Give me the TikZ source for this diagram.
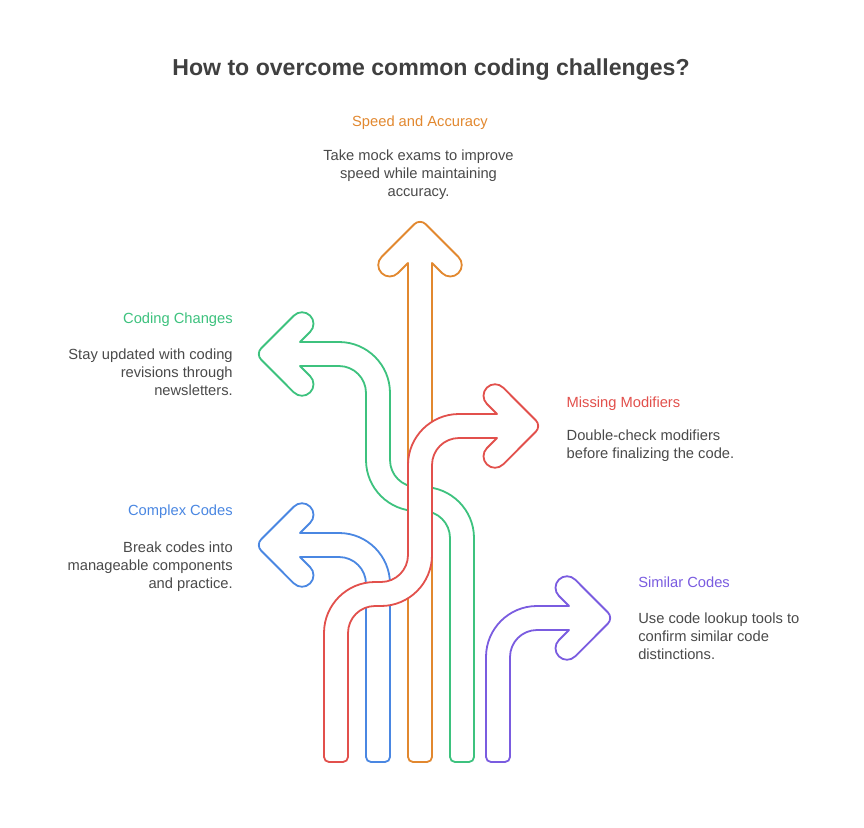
\documentclass[tikz,border=0pt]{standalone}
\usepackage{fontspec}
\setmainfont{Liberation Sans}
\definecolor{cOrange}{HTML}{E2882F}
\definecolor{cGreen}{HTML}{3DC27E}
\definecolor{cRed}{HTML}{E2504C}
\definecolor{cBlue}{HTML}{4A87E2}
\definecolor{cPurple}{HTML}{7A5CE0}
\definecolor{bodygray}{HTML}{4A4A4A}
\definecolor{titlegray}{HTML}{404040}
\begin{document}
\begin{tikzpicture}[x=1pt,y=-1pt,
  arr/.style={line width=1.8pt, fill=white, line join=round},
  titletext/.style={font=\fontsize{23.1}{28}\selectfont\bfseries, text=titlegray, inner sep=0pt, outer sep=0pt},
  headtext/.style={font=\fontsize{14.7}{18}\selectfont, inner sep=0pt, outer sep=0pt},
  bodytext/.style={font=\fontsize{14.7}{18}\selectfont, text=bodygray, inner sep=0pt, outer sep=0pt}]
\fill[white] (0,0) rectangle (864,827);
\path[use as bounding box] (0,0) rectangle (864,827);

% Green: Coding Changes
\draw[arr, draw=cGreen] (450,757) -- (450,538) arc[start angle=0,end angle=-90,radius=27]
  -- (417,511) arc[start angle=90,end angle=180,radius=51]
  -- (366,393) arc[start angle=0,end angle=-90,radius=27]
  -- (300,366) -- (310.13,376.13) arc[start angle=-45,end angle=135,radius=11.5]
  -- (261.16,359.66) arc[start angle=135,end angle=225,radius=8]
  -- (293.87,315.61) arc[start angle=225,end angle=405,radius=11.5]
  -- (300,342) -- (339,342) arc[start angle=-90,end angle=0,radius=51]
  -- (390,460) arc[start angle=180,end angle=90,radius=27]
  -- (423,487) arc[start angle=-90,end angle=0,radius=51]
  -- (474,757) arc[start angle=0,end angle=90,radius=5]
  -- (455,762) arc[start angle=90,end angle=180,radius=5] -- cycle;

% Blue: Complex Codes
\draw[arr, draw=cBlue] (366,757) -- (366,584) arc[start angle=0,end angle=-90,radius=27]
  -- (300,557) -- (310.13,567.13) arc[start angle=-45,end angle=135,radius=11.5]
  -- (261.16,550.66) arc[start angle=135,end angle=225,radius=8]
  -- (293.87,506.61) arc[start angle=225,end angle=405,radius=11.5]
  -- (300,533) -- (339,533) arc[start angle=-90,end angle=0,radius=51]
  -- (390,757) arc[start angle=0,end angle=90,radius=5]
  -- (371,762) arc[start angle=90,end angle=180,radius=5] -- cycle;

% Purple: Similar Codes
\draw[arr, draw=cPurple] (486,757) -- (486,657) arc[start angle=180,end angle=270,radius=51]
  -- (569,606) -- (558.87,595.87) arc[start angle=135,end angle=315,radius=11.5]
  -- (607.84,612.34) arc[start angle=-45,end angle=45,radius=8]
  -- (575.13,656.39) arc[start angle=45,end angle=225,radius=11.5]
  -- (569,630) -- (537,630) arc[start angle=270,end angle=180,radius=27]
  -- (510,757) arc[start angle=0,end angle=90,radius=5]
  -- (491,762) arc[start angle=90,end angle=180,radius=5] -- cycle;

% Orange: Speed and Accuracy
\draw[arr, draw=cOrange] (408,757) -- (408,263) -- (397.87,273.13) arc[start angle=45,end angle=225,radius=11.5]
  -- (414.34,224.16) arc[start angle=225,end angle=315,radius=8]
  -- (458.39,256.87) arc[start angle=315,end angle=495,radius=11.5]
  -- (432,263) -- (432,757) arc[start angle=0,end angle=90,radius=5]
  -- (413,762) arc[start angle=90,end angle=180,radius=5] -- cycle;

% Red: Missing Modifiers
\draw[arr, draw=cRed] (324,757) -- (324,633) arc[start angle=180,end angle=270,radius=51]
  -- (381,582) arc[start angle=90,end angle=0,radius=27]
  -- (408,465) arc[start angle=180,end angle=270,radius=51]
  -- (497,414) -- (486.87,403.87) arc[start angle=135,end angle=315,radius=11.5]
  -- (535.84,420.34) arc[start angle=-45,end angle=45,radius=8]
  -- (503.13,464.39) arc[start angle=45,end angle=225,radius=11.5]
  -- (497,438) -- (459,438) arc[start angle=270,end angle=180,radius=27]
  -- (432,555) arc[start angle=0,end angle=90,radius=51]
  -- (375,606) arc[start angle=270,end angle=180,radius=27]
  -- (348,757) arc[start angle=0,end angle=90,radius=5]
  -- (329,762) arc[start angle=90,end angle=180,radius=5] -- cycle;

% Texts
\node[titletext, anchor=north] (title) at (431,58.4) {How to overcome common coding challenges?};

\node[headtext, text=cOrange, anchor=north] (h1) at (420,115.5) {Speed and Accuracy};
\node[bodytext, align=center, anchor=north] (b1) at (418.5,149.8) {Take mock exams to improve\\speed while maintaining\\accuracy.};

\node[headtext, text=cGreen, anchor=north east] (h2) at (232.7,313.1) {Coding Changes};
\node[bodytext, align=right, anchor=north east] (b2) at (232.7,348.8) {Stay updated with coding\\revisions through\\newsletters.};

\node[headtext, text=cBlue, anchor=north east] (h3) at (232.7,504.8) {Complex Codes};
\node[bodytext, align=right, anchor=north east] (b3) at (232.7,541.5) {Break codes into\\manageable components\\and practice.};

\node[headtext, text=cRed, anchor=north west] (h4) at (566.7,396.5) {Missing Modifiers};
\node[bodytext, align=left, anchor=north west] (b4) at (566.7,429.8) {Double-check modifiers\\before finalizing the code.};

\node[headtext, text=cPurple, anchor=north west] (h5) at (638.3,576.5) {Similar Codes};
\node[bodytext, align=left, anchor=north west] (b5) at (638.3,613.1) {Use code lookup tools to\\confirm similar code\\distinctions.};
\end{tikzpicture}
\end{document}
